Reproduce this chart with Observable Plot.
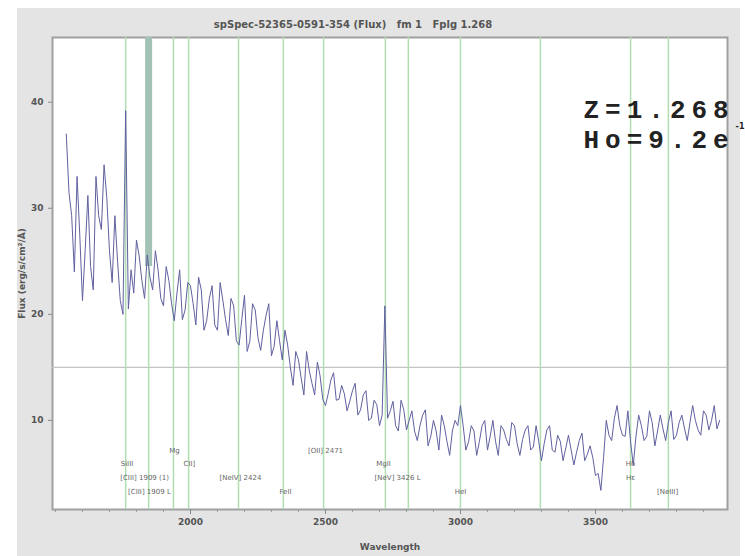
<!DOCTYPE html>
<html><head><meta charset="utf-8">
<script src="https://cdn.jsdelivr.net/npm/d3@7"></script>
<script src="https://cdn.jsdelivr.net/npm/@observablehq/plot@0.6"></script>
<style>
html,body{margin:0;padding:0;background:#fff;}
#wrap{position:relative;width:745px;height:556px;overflow:hidden;}
#panel{position:absolute;left:17px;top:8px;width:723px;height:548px;background:#e4e4e4;}
#chart{position:absolute;left:0;top:0;}
</style></head><body>
<div id="wrap"><div id="panel"></div><div id="chart"></div></div>
<script>
// Spectrum samples (wavelength in Å, flux) — main grid
const wavelength = [1540,1560,1580,1600,1620,1640,1660,1680,1700,1720,1740,1760,1780,1800,1820,1840,1860,1880,1900,1920,1940,1960,1980,2000,2020,2040,2060,2080,2100,2120,2140,2160,2180,2200,2220,2240,2260,2280,2300,2320,2340,2360,2380,2400,2420,2440,2460,2480,2500,2520,2540,2560,2580,2600,2620,2640,2660,2680,2700,2720,2740,2760,2780,2800,2820,2840,2860,2880,2900,2920,2940,2960,2980,3000,3020,3040,3060,3080,3100,3120,3140,3160,3180,3200,3220,3240,3260,3280,3300,3320,3340,3360,3380,3400,3420,3440,3460,3480,3500,3520,3540,3560,3580,3600,3620,3640,3660,3680,3700,3720,3740,3760,3780,3800,3820,3840,3860,3880,3900,3920,3940,3960];
const flux = [37.0,29.3,33.0,21.3,31.2,22.3,29.3,34.1,26.0,29.3,
  21.3,39.2,24.2,27.0,23.2,25.6,22.3,24.2,20.8,23.2,
  19.4,24.2,20.4,22.7,19.0,22.3,19.4,22.7,18.5,21.3,
  18.0,20.8,17.1,21.8,17.5,20.4,16.6,19.9,16.1,19.4,
  15.7,17.1,13.3,15.7,12.4,14.7,12.4,14.2,11.4,13.8,
  11.9,13.3,10.9,12.8,10.5,12.4,10.0,11.9,9.5,20.8,
  10.9,9.5,11.9,9.1,10.9,8.1,10.5,7.6,10.0,7.2,
  9.5,6.7,10.0,11.4,7.2,9.5,6.7,9.5,7.2,10.0,
  6.7,9.1,7.6,9.5,6.7,9.1,7.2,9.5,6.2,9.1,
  7.2,8.6,6.2,8.6,5.8,8.1,6.2,7.6,4.8,3.4,
  10.0,8.1,11.4,8.6,10.9,5.8,10.5,8.1,10.9,7.6,
  10.5,8.1,10.9,8.6,10.5,8.1,11.4,9.1,10.9,9.1,
  11.4,10.0];
// Spectrum samples — in-between pixels
const wavelengthMid = [1550,1570,1590,1610,1630,1650,1670,1690,1710,1730,1750,1770,1790,1810,1830,1850,1870,1890,1910,1930,1950,1970,1990,2010,2030,2050,2070,2090,2110,2130,2150,2170,2190,2210,2230,2250,2270,2290,2310,2330,2350,2370,2390,2410,2430,2450,2470,2490,2510,2530,2550,2570,2590,2610,2630,2650,2670,2690,2710,2730,2750,2770,2790,2810,2830,2850,2870,2890,2910,2930,2950,2970,2990,3010,3030,3050,3070,3090,3110,3130,3150,3170,3190,3210,3230,3250,3270,3290,3310,3330,3350,3370,3390,3410,3430,3450,3470,3490,3510,3530,3550,3570,3590,3610,3630,3650,3670,3690,3710,3730,3750,3770,3790,3810,3830,3850,3870,3890,3910,3930,3950];
const fluxMid = [31.5,24.0,27.5,26.0,24.5,33.0,28.0,31.0,23.0,25.0,
  20.0,20.5,22.0,25.5,21.5,23.5,26.0,21.5,24.5,21.0,
  22.0,19.5,23.0,21.0,23.5,18.5,21.5,19.0,23.0,19.5,
  21.5,17.5,19.5,16.5,21.0,17.8,18.5,21.0,17.0,17.5,
  18.5,15.0,16.5,14.0,16.5,13.5,15.5,12.0,12.5,14.5,
  12.0,12.5,11.8,13.5,11.0,12.8,10.2,11.5,10.5,10.2,
  11.8,9.0,11.0,10.0,9.0,9.5,11.0,8.5,9.0,10.5,
  8.0,9.0,9.5,9.5,8.0,9.0,8.0,10.0,8.5,8.0,
  9.5,8.2,9.8,7.8,8.2,9.5,7.5,8.0,7.8,9.5,
  7.0,8.0,7.4,7.2,7.0,8.8,6.8,6.5,5.0,6.5,
  8.6,10.2,9.5,8.5,8.0,8.5,9.5,8.5,9.8,9.0,
  9.2,9.8,8.2,9.8,9.2,9.8,10.0,8.6,10.5,10.0,
  9.2];

// Emission-line markers
const lineWave = [1760,1845,1937,1993,2178,2344,2493,2722,2807,3000,3296,3630,3770];
// Masked sky-line band
const skyWave = [1845];
const skyLow = [24.5];
const skyHigh = [60];
// Line labels
const labelWave = [1765,1830,1848,1941,1996,2185,2352,2500,2715,2767,3000,3630,3630,3767];
const labelText = ["SiIII","[CIII] 1909 (1)","[CIII] 1909 L","Mg","CII]","[NeIV] 2424","FeII","[OII] 2471","MgII","[NeV] 3426 L","HeI","Hδ","Hε","[NeIII]"];
const labelRow = [1,2,3,0,1,2,3,0,1,2,3,1,2,3];
// Axes
const xTicks = [2000,2500,3000,3500];
const xMinor = [1500,1600,1700,1800,1900,2100,2200,2300,2400,2600,2700,2800,2900,3100,3200,3300,3400,3600,3700,3800,3900];
const yTicks = [10,20,30,40];
const refLevel = [15];
const title = "spSpec-52365-0591-354 (Flux)   fm 1   Fplg 1.268";
const zText = "Z=1.268";
const hoText = "Ho=9.2e";
const hoExp = "-1";

const spectrum = wavelength.map((w, i) => ({w, f: flux[i]}))
  .concat(wavelengthMid.map((w, i) => ({w, f: fluxMid[i]})))
  .sort((a, b) => a.w - b.w);
const sky = skyWave.map((w, i) => ({w, lo: skyLow[i], hi: skyHigh[i]}));
const labels = labelWave.map((w, i) => ({w, t: labelText[i], row: labelRow[i]}));
const rowDy = [-57, -44, -30, -16];

const svg = Plot.plot({
  width: 745, height: 556,
  marginLeft: 52, marginRight: 18, marginTop: 37, marginBottom: 47,
  style: {background: "transparent", fontFamily: "DejaVu Sans, sans-serif", fontSize: "9px", color: "#555"},
  x: {domain: [1489, 3989]},
  y: {domain: [1.6, 46.1]},
  marks: [
    Plot.frame({fill: "white", stroke: "#a0a0a0", strokeWidth: 2}),
    Plot.ruleY(refLevel, {stroke: "#c4c4c4", strokeWidth: 1.2}),
    Plot.ruleX(lineWave, {stroke: "#b0deb0", strokeWidth: 1.5}),
    Plot.ruleX(sky, {x: "w", y1: "lo", y2: "hi", stroke: "#a3c2b6", strokeWidth: 7, clip: true}),
    Plot.line(spectrum, {x: "w", y: "f", stroke: "#6060a0", strokeWidth: 1, clip: true}),
    ...rowDy.map((dy, r) => Plot.text(labels.filter(d => d.row === r), {x: "w", text: "t", frameAnchor: "bottom", dy, fontSize: 7, fill: "#666"})),
    Plot.axisX(xTicks, {tickSize: 5, tickFormat: d => String(d), label: "Wavelength", labelArrow: "none", labelAnchor: "center", labelOffset: 40, fontWeight: "bold", fill: "#555", stroke: "#888"}),
    Plot.axisX(xMinor, {tickSize: 3, text: null, label: null, stroke: "#999"}),
    Plot.axisY(yTicks, {tickSize: 4, label: "Flux (erg/s/cm²/Å)", labelArrow: "none", labelAnchor: "center", labelOffset: 34, fontWeight: "bold", fill: "#555", stroke: "#888"}),
    Plot.text([title], {text: d => d, frameAnchor: "top", dy: -17, dx: -37, fontSize: 10, fontWeight: "bold", fill: "#555"}),
    Plot.text([zText], {text: d => d, frameAnchor: "top-left", textAnchor: "start", dx: 531, dy: 62, fontSize: 26, fontWeight: "bold", fontFamily: "Liberation Mono, DejaVu Sans Mono, monospace", fill: "#222"}),
    Plot.text([hoText], {text: d => d, frameAnchor: "top-left", textAnchor: "start", dx: 531, dy: 92, fontSize: 26, fontWeight: "bold", fontFamily: "Liberation Mono, DejaVu Sans Mono, monospace", fill: "#222"}),
    Plot.text([hoExp], {text: d => d, frameAnchor: "top-left", textAnchor: "end", dx: 692, dy: 86, fontSize: 8, fontWeight: "bold", fill: "#222"})
  ]
});
d3.select(svg).selectAll("text").filter(function() {
  const t = this.textContent; return t === zText || t === hoText;
}).style("letter-spacing", "6px");
document.getElementById("chart").appendChild(svg);
</script>
</body></html>
